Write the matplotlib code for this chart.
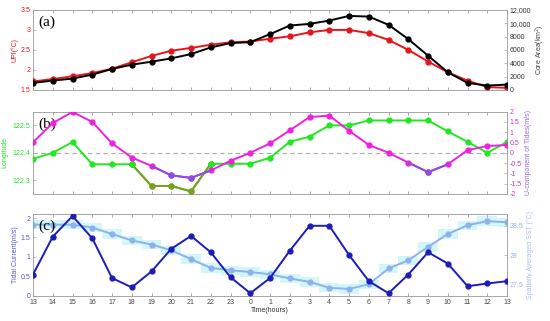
import matplotlib
matplotlib.use('Agg')
import matplotlib.pyplot as plt
import numpy as np

plt.rcParams['font.family'] = ['Liberation Sans', 'DejaVu Sans']

# hours 13 -> 13 next day
hours = [13, 14, 15, 16, 17, 18, 19, 20, 21, 22, 23, 0, 1, 2, 3, 4, 5, 6, 7, 8, 9, 10, 11, 12, 13]
x = np.arange(len(hours))

# (a) UPI and core area
upi = [1.71, 1.77, 1.84, 1.92, 2.03, 2.19, 2.35, 2.48, 2.55, 2.63, 2.69, 2.71, 2.78,
       2.84, 2.94, 3.00, 3.00, 2.92, 2.75, 2.50, 2.21, 1.94, 1.73, 1.57, 1.55]
core_area = [1046, 1394, 1693, 2290, 3137, 3784, 4232, 4730, 5378, 6373, 7021, 7170, 8365,
             9660, 9909, 10407, 11104, 11004, 9759, 7618, 5129, 2639, 1046, 647, 797]

# (b) longitude and U-component of tides
longitude = [122.378, 122.40, 122.439, 122.358, 122.358, 122.358, 122.279, 122.279, 122.259,
             122.36, 122.36, 122.36, 122.382, 122.44, 122.459, 122.50, 122.50, 122.518,
             122.518, 122.518, 122.518, 122.478, 122.44, 122.40, 122.44]
u_tide = [0.51, 1.45, 1.99, 1.50, 0.46, -0.23, -0.64, -1.10, -1.22, -0.86, -0.39, 0.0, 0.46,
          1.09, 1.74, 1.81, 1.07, 0.38, 0.0, -0.48, -0.94, -0.56, 0.13, 0.33, 0.38]

# (c) tidal current and spatially averaged SST
current = [0.55, 1.52, 2.05, 1.48, 0.46, 0.22, 0.63, 1.21, 1.54, 1.12, 0.48, 0.07, 0.46,
           1.16, 1.80, 1.80, 1.05, 0.38, 0.07, 0.55, 1.12, 0.83, 0.25, 0.32, 0.38]
sst = [28.52, 28.52, 28.52, 28.47, 28.36, 28.25, 28.18, 28.08, 27.93, 27.78, 27.74, 27.71, 27.67,
       27.60, 27.54, 27.44, 27.42, 27.50, 27.77, 27.91, 28.14, 28.36, 28.51, 28.58, 28.56]

RED = '#e8141c'
GREEN = '#22e622'
OLIVE = '#7f9c22'
MAGENTA = '#ee22dd'
PURPLE = '#8a4fe0'
DBLUE = '#1c1cb8'
LBLUE = '#8fb2ec'

fig = plt.figure(figsize=(5.5, 3.21), dpi=100)
L, W = 0.06, 0.862
axa = fig.add_axes([L, 0.72, W, 0.249])
axb = fig.add_axes([L, 0.396, W, 0.256])
axc = fig.add_axes([L, 0.078, W, 0.255])


def style(ax, lcol):
    ax.set_xlim(0, len(hours) - 1)
    ax.set_xticks(x)
    ax.tick_params(axis='x', direction='in', length=2.5, width=0.5, top=True,
                   labelsize=5, colors='#888', labelcolor='#444', pad=2)
    ax.tick_params(axis='y', direction='in', length=2.5, width=0.5,
                   labelsize=5, colors='#aaa', labelcolor=lcol, pad=2)
    for s in ax.spines.values():
        s.set_color('#999')
        s.set_linewidth(0.6)


def rstyle(ax, lcol):
    ax.tick_params(axis='y', direction='in', length=2.5, width=0.5,
                   labelsize=5, colors='#aaa', labelcolor=lcol, pad=2)
    for s in ax.spines.values():
        s.set_visible(False)


mk = dict(marker='o', markersize=3.5, linewidth=1.4)

# --- panel (a) ---
style(axa, RED)
axa.set_xticklabels([])
axa.set_ylim(1.5, 3.5)
axa.set_yticks([1.5, 2, 2.5, 3, 3.5])
axa.set_yticklabels(['1.5', '2', '2.5', '3', '3.5'])
axa.plot(x, upi, color=RED, zorder=3, **mk)
axa.set_ylabel('UPI(°C)', color=RED, fontsize=5, labelpad=1)
axa2 = axa.twinx()
rstyle(axa2, '#333')
axa2.set_ylim(0, 12000)
axa2.set_yticks([0, 2000, 4000, 6000, 8000, 10000, 12000])
axa2.set_yticklabels(['0', '2000', '4000', '6000', '8000', '10,000', '12,000'])
axa2.plot(x, core_area, color='black', zorder=3, **mk)
axa2.set_ylabel('Core Area(km$^2$)', color='#444', fontsize=5, labelpad=2)
axa.text(0.012, 0.93, '(a)', transform=axa.transAxes, ha='left', va='top',
         fontsize=11, family='Liberation Serif', zorder=10)

# --- panel (b) ---
style(axb, GREEN)
axb.set_xticklabels([])
axb.set_ylim(122.25, 122.55)
axb.set_yticks([122.3, 122.4, 122.5])
axb.set_yticklabels(['122.3', '122.4', '122.5'])
axb.axhline(122.4, color='#aaa', linestyle='--', linewidth=0.8, dashes=(4, 3), zorder=1)
axb.plot(x, longitude, color=GREEN, zorder=3, **mk)
axb.plot(x[5:10], longitude[5:10], color=OLIVE, zorder=4, **mk)
axb.plot(x[9], longitude[9], 'o', color=GREEN, markersize=3.5, zorder=5)
axb.plot(x[5], longitude[5], 'o', color=GREEN, markersize=3.5, zorder=5)
axb.set_ylabel('Longitude', color=GREEN, fontsize=5, labelpad=3)
axb2 = axb.twinx()
rstyle(axb2, '#cc33cc')
axb2.set_ylim(-2, 2)
axb2.set_yticks([-2, -1.5, -1, -0.5, 0, 0.5, 1, 1.5, 2])
axb2.set_yticklabels(['-2', '-1.5', '-1', '-0.5', '0', '0.5', '1', '1.5', '2'])
axb2.plot(x, u_tide, color=MAGENTA, zorder=3, **mk)
axb2.plot(x[6:10], u_tide[6:10], color=PURPLE, linewidth=1.4, zorder=3)
axb2.plot(x[7:9], u_tide[7:9], 'o', color=PURPLE, markersize=3.5, zorder=4)
axb2.plot(x[19:22], u_tide[19:22], color=PURPLE, linewidth=1.4, zorder=3)
axb2.plot(x[20], u_tide[20], 'o', color=PURPLE, markersize=3.5, zorder=4)
axb2.set_ylabel('U-component of Tides(m/s)', color='#9966dd', fontsize=5, labelpad=2)
axb.text(0.012, 0.93, '(b)', transform=axb.transAxes, ha='left', va='top',
         fontsize=11, family='Liberation Serif', zorder=10)

# --- panel (c) ---
style(axc, '#5555cc')
axc.set_xticklabels([str(h) for h in hours])
axc.set_ylim(0, 2.1)
axc.set_yticks([0, 0.5, 1, 1.5, 2])
axc.set_yticklabels(['0', '0.5', '1', '1.5', '2'])
axc.set_ylabel('Tidal Current(m/s)', color='#5555cc', fontsize=5, labelpad=1)
axc.set_xlabel('Time(hours)', color='#333', fontsize=5, labelpad=1)
axc2 = axc.twinx()
rstyle(axc2, '#9ab4e0')
axc2.set_ylim(27.3, 28.7)
axc2.set_yticks([27.5, 28, 28.5])
axc2.set_yticklabels(['27.5', '28', '28.5'])
sst_arr = np.array(sst)
axc2.fill_between(x, sst_arr - 0.08, sst_arr + 0.08, step='mid', color='#cdf7fb',
                  alpha=0.9, linewidth=0, zorder=1)
axc2.plot(x, sst, color=LBLUE, zorder=2, **mk)
axc2.set_ylabel('Spatially Averaged SST (°C)', color='#a8c0ec', fontsize=5, labelpad=2)
axc.set_zorder(axc2.get_zorder() + 1)
axc.patch.set_visible(False)
axc.plot(x, current, color=DBLUE, zorder=3, **mk)
axc.text(0.012, 0.93, '(c)', transform=axc.transAxes, ha='left', va='top',
         fontsize=11, family='Liberation Serif', zorder=10)

fig.savefig('out.png', dpi=100)
